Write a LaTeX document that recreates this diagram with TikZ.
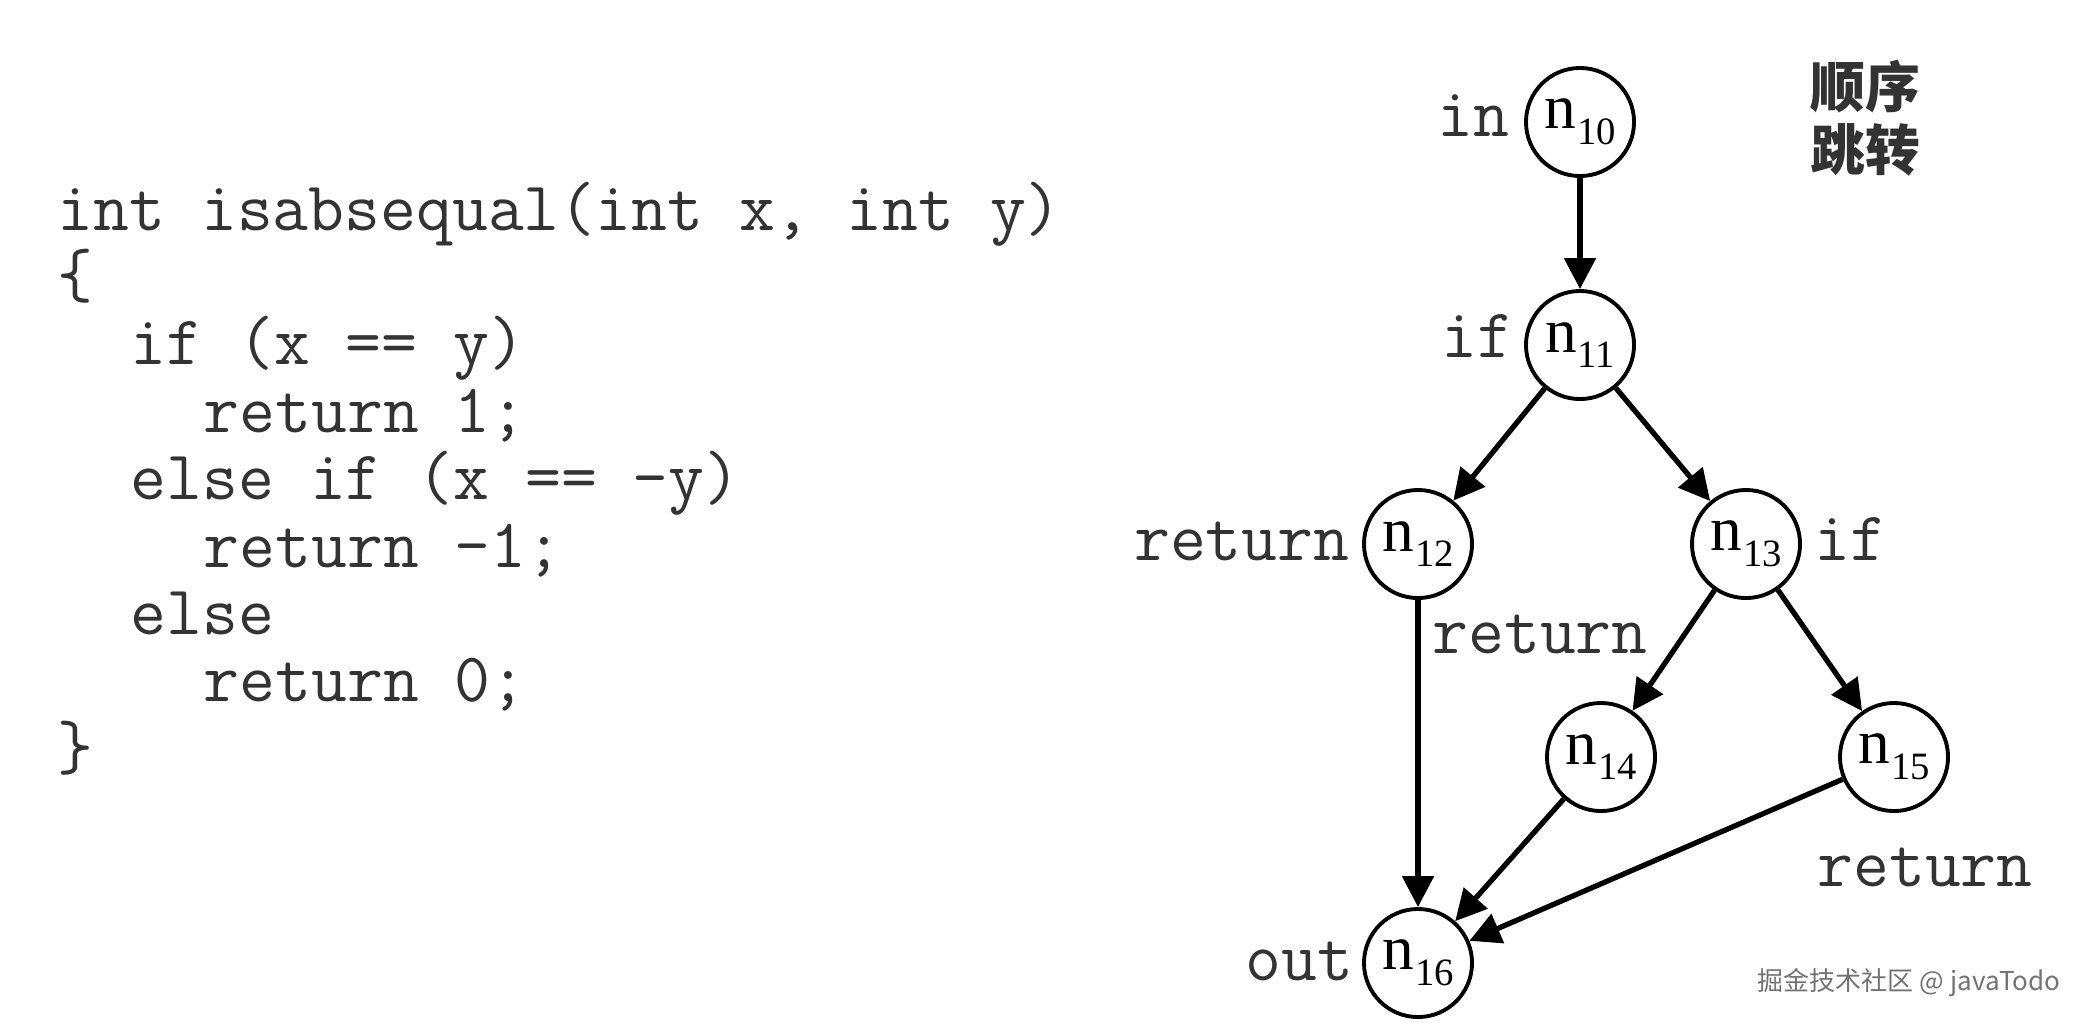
\documentclass[tikz,border=0pt]{standalone}
\usepackage{fontspec}
\setmainfont{Liberation Serif}
\newfontfamily\cjk{Noto Sans CJK SC}
\usetikzlibrary{arrows.meta}
\newcommand{\nsub}[1]{n\kern0.3pt\raisebox{-4.5pt}{\fontsize{11}{11}\selectfont #1}}

\begin{document}
\begin{tikzpicture}[x=0.01cm,y=-0.01cm,>={Triangle[length=3.1mm,width=3.1mm]},
  vtx/.style={circle,draw,line width=1.1pt,minimum size=1.08cm,inner sep=0pt,font=\fontsize{18}{18}\selectfont},
  lbl/.style={inner sep=0pt,font=\ttfamily\fontsize{19.8}{19.8}\selectfont,text=black!80},
  flow/.style={->,line width=1.5pt}]
  \useasboundingbox (0,0) rectangle (2088,1026);
  % source code
  \node[lbl,anchor=base west] (code1) at (57,230.0) {int isabsequal(int x, int y)};
  \node[lbl,anchor=base west] (code2) at (57,297.4) {\{};
  \node[lbl,anchor=base west] (code3) at (130,364.8) {if (x == y)};
  \node[lbl,anchor=base west] (code4) at (203,432.2) {return 1;};
  \node[lbl,anchor=base west] (code5) at (130,499.6) {else if (x == -y)};
  \node[lbl,anchor=base west] (code6) at (203,567.0) {return -1;};
  \node[lbl,anchor=base west] (code7) at (130,634.4) {else};
  \node[lbl,anchor=base west] (code8) at (203,701.8) {return 0;};
  \node[lbl,anchor=base west] (code9) at (57,769.2) {\}};
  % flow graph
  \node[vtx] (n10) at (1580,122) {\nsub{10}};
  \node[vtx] (n11) at (1580,345) {\nsub{11}};
  \node[vtx] (n12) at (1418,544) {\nsub{12}};
  \node[vtx] (n13) at (1746,544) {\nsub{13}};
  \node[vtx] (n14) at (1601,757) {\nsub{14}};
  \node[vtx] (n15) at (1894,757) {\nsub{15}};
  \node[vtx] (n16) at (1418,963) {\nsub{16}};
  \draw[flow] (n10) -- (n11);
  \draw[flow] (n11) -- (n12);
  \draw[flow] (n11) -- (n13);
  \draw[flow] (n12) -- (n16);
  \draw[flow] (n13) -- (n14);
  \draw[flow] (n13) -- (n15);
  \draw[flow] (n14) -- (n16);
  \draw[flow] (n15) -- (n16);
  % statement kinds
  \node[lbl,anchor=base east] (in10) at (1510,136) {in};
  \node[lbl,anchor=base east] (if11) at (1514,357) {if};
  \node[lbl,anchor=base east] (ret12) at (1350,560) {return};
  \node[lbl,anchor=base west] (if13) at (1814,560) {if};
  \node[lbl,anchor=base] (ret14) at (1540,653) {return};
  \node[lbl,anchor=base] (ret15) at (1925,886) {return};
  \node[lbl,anchor=base east] (out16) at (1354,980) {out};
  \node[inner sep=0pt,align=center,text=black!80,font=\cjk\bfseries\fontsize{15.6}{18}\selectfont] (kind) at (1865,118) {顺序\\跳转};
  \node[inner sep=0pt,anchor=east,text=black!55,font=\cjk\fontsize{7.4}{8}\selectfont] (mark) at (2061,983) {掘金技术社区 @ javaTodo};
\end{tikzpicture}
\end{document}
